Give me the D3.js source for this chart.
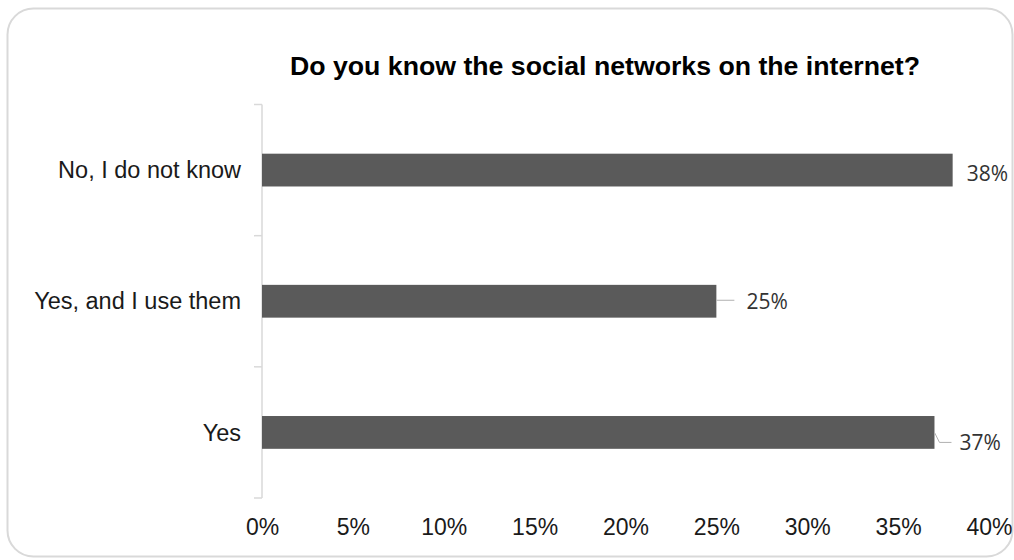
<!DOCTYPE html>
<html>
<head>
<meta charset="utf-8">
<script src="https://cdn.jsdelivr.net/npm/d3@7"></script>
<style>
  html, body { margin: 0; padding: 0; background: #fff; }
  svg { display: block; }
</style>
</head>
<body>
<svg id="chart" width="1014" height="560"></svg>
<script>
// Survey answers, listed top to bottom
const categories = ["No, I do not know", "Yes, and I use them", "Yes"];
const values = [38, 25, 37];
const valueLabels = ["38%", "25%", "37%"];
const tickValues = [0, 5, 10, 15, 20, 25, 30, 35, 40];
const tickLabels = ["0%", "5%", "10%", "15%", "20%", "25%", "30%", "35%", "40%"];
const title = "Do you know the social networks on the internet?";

const svg = d3.select("#chart");

// Rounded frame around the chart area
svg.append("rect")
  .attr("x", 7.5).attr("y", 8.5)
  .attr("width", 1005).attr("height", 548)
  .attr("rx", 26).attr("ry", 26)
  .attr("fill", "#fff")
  .attr("stroke", "#d9d9d9")
  .attr("stroke-width", 2);

// Title
svg.append("text")
  .attr("x", 605).attr("y", 75)
  .attr("text-anchor", "middle")
  .attr("font-family", "'Liberation Sans', Arial, sans-serif")
  .attr("font-weight", "bold")
  .attr("font-size", 25)
  .attr("fill", "#000")
  .attr("textLength", 630)
  .attr("lengthAdjust", "spacingAndGlyphs")
  .text(title);

const x = d3.scaleLinear().domain([0, 40]).range([262, 989]);
const y = d3.scaleBand()
  .domain(categories)
  .range([104.5, 498])
  .paddingInner(0.75)
  .paddingOuter(0.375);

// Category axis line and band boundary ticks
const gAxis = svg.append("g");
gAxis.append("line")
  .attr("x1", x(0)).attr("x2", x(0))
  .attr("y1", y.range()[0]).attr("y2", y.range()[1])
  .attr("stroke", "#d9d9d9").attr("stroke-width", 1.5);
const bounds = d3.range(categories.length + 1).map(i => y.range()[0] + i * y.step());
gAxis.selectAll("line.tick").data(bounds).join("line")
  .attr("class", "tick")
  .attr("x1", x(0) - 8).attr("x2", x(0))
  .attr("y1", d => d).attr("y2", d => d)
  .attr("stroke", "#d9d9d9").attr("stroke-width", 1.5);

// Category labels
svg.append("g").selectAll("text").data(categories).join("text")
  .attr("x", 241)
  .attr("y", d => y(d) + y.bandwidth() / 2)
  .attr("dy", "0.35em")
  .attr("text-anchor", "end")
  .attr("font-family", "'Liberation Sans', Arial, sans-serif")
  .attr("font-size", 23.5)
  .attr("fill", "#1a1a1a")
  .text(d => d);

// Bars
svg.append("g").selectAll("rect").data(categories).join("rect")
  .attr("x", x(0))
  .attr("y", d => y(d))
  .attr("width", (d, i) => x(values[i]) - x(0))
  .attr("height", y.bandwidth())
  .attr("fill", "#5a5a5a");

// Value axis tick labels
const xAxis = d3.axisBottom(x)
  .tickValues(tickValues)
  .tickFormat((d, i) => tickLabels[i])
  .tickSize(0)
  .tickPadding(0);
const gx = svg.append("g").attr("transform", "translate(0,519)").call(xAxis);
gx.select(".domain").remove();
gx.selectAll("text")
  .attr("font-family", "'Liberation Sans', Arial, sans-serif")
  .attr("font-size", 23)
  .attr("fill", "#1a1a1a");

// Data labels with leader lines
const labelFont = "'Open Sans', 'Noto Sans', sans-serif";
const cy = i => y(categories[i]) + y.bandwidth() / 2;

// 38%
svg.append("text")
  .attr("x", x(values[0]) + 14).attr("y", cy(0) + 4)
  .attr("dy", "0.35em")
  .attr("font-family", labelFont).attr("font-size", 21)
  .attr("fill", "#333")
  .text(valueLabels[0]);

// 25% with a short straight leader
svg.append("line")
  .attr("x1", x(values[1])).attr("x2", x(values[1]) + 18)
  .attr("y1", cy(1) - 1).attr("y2", cy(1) - 1)
  .attr("stroke", "#b0b0b0").attr("stroke-width", 1);
svg.append("text")
  .attr("x", x(values[1]) + 30).attr("y", cy(1))
  .attr("dy", "0.35em")
  .attr("font-family", labelFont).attr("font-size", 21)
  .attr("fill", "#333")
  .text(valueLabels[1]);

// 37% with a bent leader
svg.append("path")
  .attr("d", `M${x(values[2])},${cy(2)} L${x(values[2]) + 5},${cy(2) + 10} L${x(values[2]) + 17},${cy(2) + 10}`)
  .attr("fill", "none")
  .attr("stroke", "#b0b0b0").attr("stroke-width", 1);
svg.append("text")
  .attr("x", x(values[2]) + 25).attr("y", cy(2) + 10)
  .attr("dy", "0.35em")
  .attr("font-family", labelFont).attr("font-size", 21)
  .attr("fill", "#333")
  .text(valueLabels[2]);
</script>
</body>
</html>
